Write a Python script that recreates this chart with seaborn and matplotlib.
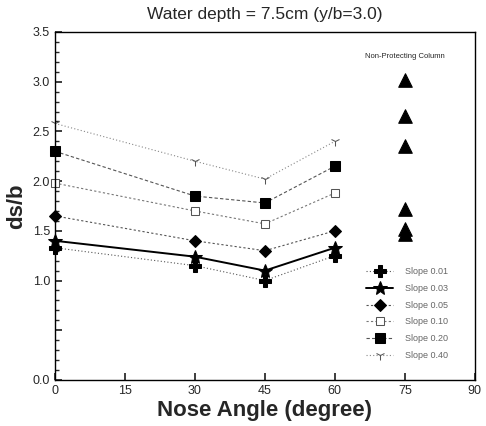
import matplotlib
matplotlib.use("Agg")
import matplotlib.pyplot as plt
import seaborn as sns
import pandas as pd
from matplotlib.ticker import MultipleLocator, FixedLocator

angles = [0, 30, 45, 60]
slope_001 = [1.33, 1.15, 1.00, 1.25]
slope_003 = [1.40, 1.24, 1.10, 1.33]
slope_005 = [1.65, 1.40, 1.30, 1.50]
slope_010 = [1.98, 1.70, 1.57, 1.88]
slope_020 = [2.30, 1.85, 1.78, 2.15]
slope_040 = [2.58, 2.20, 2.02, 2.40]
series_names = ["Slope 0.01", "Slope 0.03", "Slope 0.05", "Slope 0.10", "Slope 0.20", "Slope 0.40"]
non_prot_angle = [75, 75, 75, 75, 75, 75]
non_prot_vals = [3.02, 2.65, 2.35, 1.72, 1.52, 1.47]
yticks = [0.0, 0.5, 1.0, 1.5, 2.0, 2.5, 3.0, 3.5]
ytick_labels = ["0.0", "", "1.0", "1.5", "2.0", "2.5", "3.0", "3.5"]
xticks = [0, 15, 30, 45, 60, 75, 90]

sns.set_theme(style="ticks")
plt.rcParams['font.family'] = ['Liberation Sans', 'DejaVu Sans']

rows = []
for name, vals in zip(series_names, [slope_001, slope_003, slope_005, slope_010, slope_020, slope_040]):
    for a, v in zip(angles, vals):
        rows.append({"angle": a, "ds_b": v, "series": name})
df = pd.DataFrame(rows)

fig = plt.figure(figsize=(4.86, 4.26), dpi=100)
ax = fig.add_axes([0.113, 0.108, 0.864, 0.817])

styles = {
    "Slope 0.01": dict(marker="P", ls=(0, (1, 2)), lw=0.8, color="#555555", mfc="black", ms=8),
    "Slope 0.03": dict(marker="*", ls="-", lw=1.4, color="black", mfc="black", ms=10),
    "Slope 0.05": dict(marker="D", ls=(0, (2, 2)), lw=0.8, color="#555555", mfc="black", ms=6),
    "Slope 0.10": dict(marker="s", ls=(0, (2, 2)), lw=0.8, color="#777777", mfc="white", ms=6),
    "Slope 0.20": dict(marker="s", ls=(0, (3, 2)), lw=0.8, color="#555555", mfc="black", ms=7),
    "Slope 0.40": dict(marker="1", ls=(0, (1, 2)), lw=0.8, color="#888888", mfc="white", ms=7),
}
for name in series_names:
    st = styles[name]
    sub = df[df["series"] == name]
    sns.lineplot(data=sub, x="angle", y="ds_b", ax=ax, label=name,
                 color=st["color"], linestyle=st["ls"], linewidth=st["lw"],
                 marker=st["marker"], markersize=st["ms"], markerfacecolor=st["mfc"],
                 markeredgecolor="black" if st["mfc"] == "black" else "#555555",
                 clip_on=False)

sns.scatterplot(x=non_prot_angle, y=non_prot_vals, ax=ax, marker="^", s=95,
                color="black", edgecolor="black", legend=False)
ax.text(75, 3.22, "Non-Protecting Column", ha="center", va="bottom", fontsize=5.5)

ax.set_xlim(0, 90)
ax.set_ylim(0, 3.5)
ax.xaxis.set_major_locator(FixedLocator(xticks))
ax.yaxis.set_major_locator(FixedLocator(yticks))
ax.set_yticklabels(ytick_labels)
ax.yaxis.set_minor_locator(MultipleLocator(0.1))
ax.tick_params(direction="in", which="both", labelsize=9, length=5)
ax.tick_params(which="minor", length=3)
ax.set_xlabel("Nose Angle (degree)", fontsize=16, fontweight="bold", labelpad=2)
ax.set_ylabel("ds/b", fontsize=16, fontweight="bold", labelpad=4)
ax.set_title("Water depth = 7.5cm (y/b=3.0)", fontsize=12.5, pad=9)
for s in ax.spines.values():
    s.set_linewidth(1.0)
    s.set_color("black")

leg = ax.legend(loc="lower right", bbox_to_anchor=(0.955, 0.035), frameon=False,
                fontsize=6.5, handlelength=3.0, labelspacing=0.85, handletextpad=1.3)
for t in leg.get_texts():
    t.set_color("#666666")

fig.savefig("out.png", dpi=100)
